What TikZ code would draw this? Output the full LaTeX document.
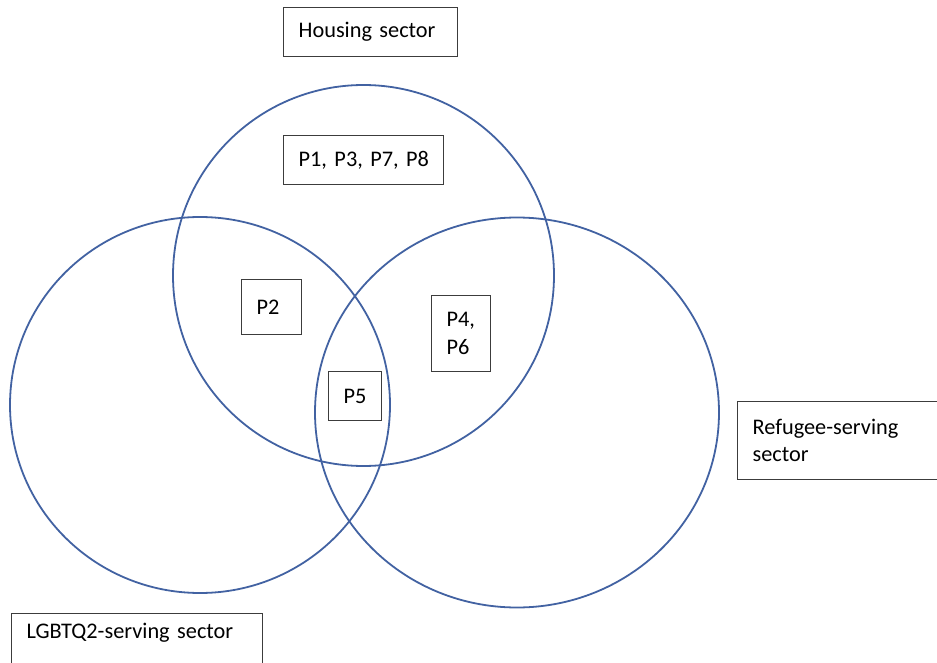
\documentclass[tikz,border=0pt]{standalone}
\usepackage{fontspec}
\setmainfont{Carlito}
\usepackage{tikz}

\definecolor{vennblue}{RGB}{66,98,162}
\definecolor{boxgray}{RGB}{60,60,60}

\tikzset{
  sbox/.style={draw=boxgray, line width=1.3pt, fill=white, anchor=north west,
    inner xsep=15pt, inner ysep=0pt, align=left,
    font=\fontsize{22.3}{27.5}\selectfont},
  venn/.style={draw=vennblue, line width=1.8pt}
}

\begin{document}
\begin{tikzpicture}[x=1pt, y=-1pt]
\useasboundingbox (0,0) rectangle (937,663);
\clip (0,0) rectangle (937,663);
\draw [venn] (363.5,275.5) circle [radius=190.5];
\draw [venn] (200,405) ellipse [x radius=190, y radius=188];
\draw [venn] (517,412.5) ellipse [x radius=202, y radius=195];
\node [sbox, text width=144pt, minimum height=49pt] (housing) at (283,7) {Housing sector};
\node [sbox, text width=130pt, minimum height=49pt] (phousing) at (283,135) {\mbox{P1, P3, P7, P8}};
\node [sbox, text width=30pt, minimum height=55pt] (ptwo) at (241,279) {P2};
\node [sbox, text width=29pt, minimum height=76pt] (pfoursix) at (431,295) {P4,\\P6};
\node [sbox, text width=23pt, minimum height=49pt] (pfive) at (328,371) {P5};
\node [sbox, text width=190pt, minimum height=78pt] (refugee) at (737,401) {Refugee-serving\\sector};
\node [sbox, text width=221pt, inner ysep=10pt, text height=15pt, text depth=40pt] (lgbtq) at (11,613) {LGBTQ2-serving sector};
\end{tikzpicture}
\end{document}
